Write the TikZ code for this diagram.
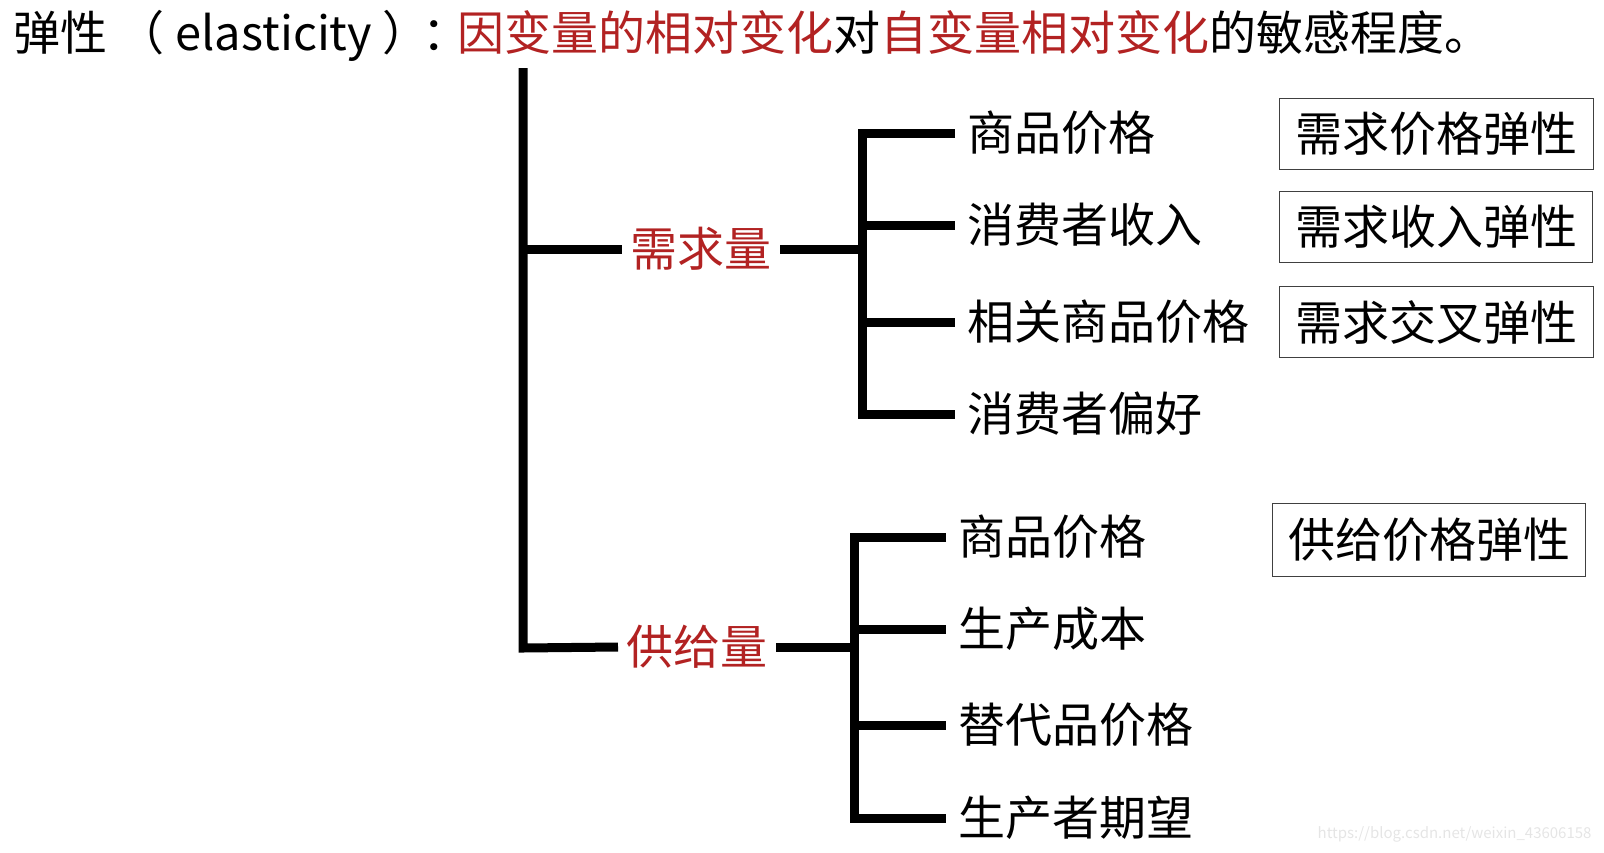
\documentclass[tikz,border=0pt]{standalone}
\usepackage{fontspec}
\setmainfont{Noto Sans CJK SC}
\definecolor{shenhong}{RGB}{178,34,34}
\newcommand{\dazi}{\fontsize{47}{53}\selectfont}
\begin{document}
\begin{tikzpicture}[x=1pt, y=-1pt, line width=9pt, line join=miter,
    leaf/.style={anchor=west, inner xsep=7.5pt, inner ysep=0pt, font=\dazi},
    mid/.style={anchor=west, inner xsep=4pt, inner ysep=0pt, font=\dazi, text=shenhong},
    tanxing/.style={draw=black!75, line width=1.3pt, anchor=north west, minimum height=71pt, inner sep=0pt, font=\dazi}]
    \useasboundingbox (0,0) rectangle (1604,852);

    % 标题
    \node[anchor=west, inner sep=0pt, font=\dazi] (title) at (9,36)
        {弹性 （ elasticity ）\kern-7pt：\kern-12pt\textcolor{shenhong}{因变量的相对变化}对\textcolor{shenhong}{自变量相对变化}的敏感程度。};

    % 主干
    \coordinate (top) at (523,68);
    \coordinate (bot) at (523,648);
    \node[mid] (xq) at (622,249) {需求量};
    \node[mid] (gq) at (618,647) {供给量};
    \draw (top) -- (bot) -- (gq.west);
    \draw (top |- xq) -- (xq.west);

    % 需求量的因素
    \node[leaf] (x1) at (955,133) {商品价格};
    \node[leaf] (x2) at (955,225) {消费者收入};
    \node[leaf] (x3) at (955,322) {相关商品价格};
    \node[leaf] (x4) at (955,414) {消费者偏好};
    \coordinate (xb) at (862,249);
    \draw (x1.west) -- (xb |- x1) -- (xb |- x4) -- (x4.west);
    \draw (xq.east) -- (xb);
    \draw (xb |- x2) -- (x2.west);
    \draw (xb |- x3) -- (x3.west);

    % 供给量的因素
    \node[leaf] (g1) at (946,537) {商品价格};
    \node[leaf] (g2) at (946,629) {生产成本};
    \node[leaf] (g3) at (946,725) {替代品价格};
    \node[leaf] (g4) at (946,818) {生产者期望};
    \coordinate (gb) at (854,647);
    \draw (g1.west) -- (gb |- g1) -- (gb |- g4) -- (g4.west);
    \draw (gq.east) -- (gb);
    \draw (gb |- g2) -- (g2.west);
    \draw (gb |- g3) -- (g3.west);

    % 弹性
    \node[tanxing, minimum width=314pt] (b1) at (1279,98) {需求价格弹性};
    \node[tanxing, minimum width=313pt] (b2) at (1279,191) {需求收入弹性};
    \node[tanxing, minimum width=314pt] (b3) at (1279,286) {需求交叉弹性};
    \node[tanxing, minimum width=313pt, minimum height=73pt] (b4) at (1272,503) {供给价格弹性};

    \node[anchor=east, inner sep=0pt, text=black!10, font=\fontsize{15}{18}\selectfont] (wm) at (1596,834) {https://blog.csdn.net/weixin\_43606158};
\end{tikzpicture}
\end{document}
